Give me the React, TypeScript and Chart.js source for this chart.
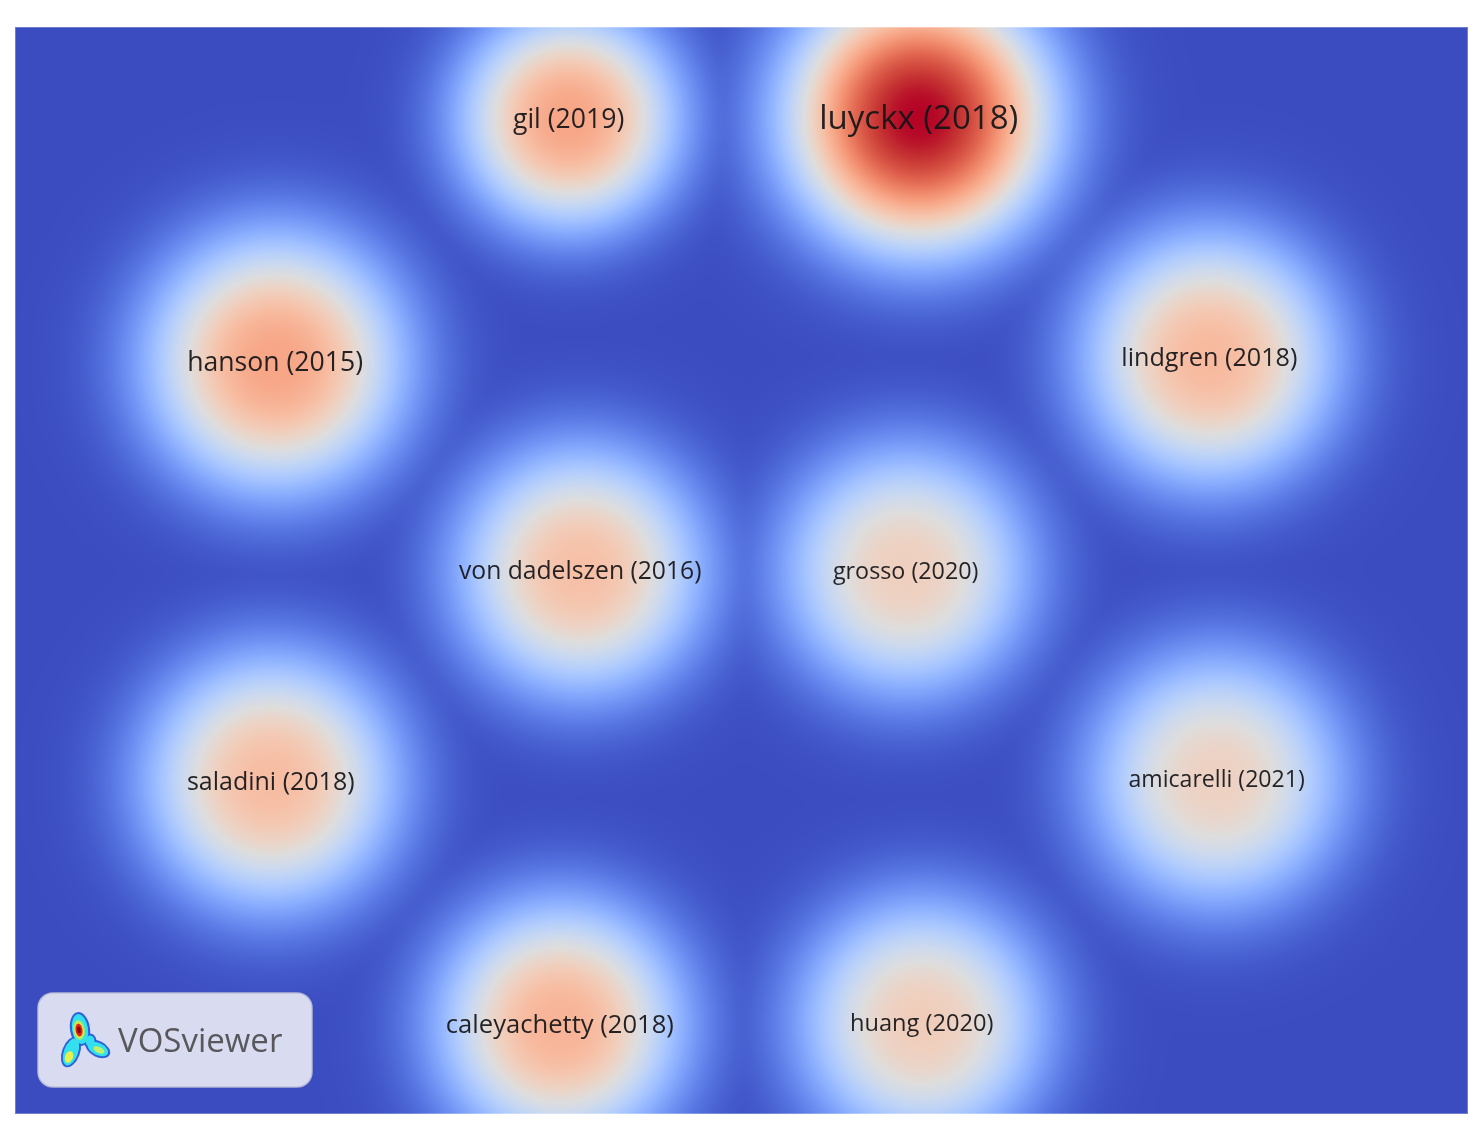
import React, { useEffect, useRef } from "react";
import { Chart, registerables } from "chart.js";
Chart.register(...registerables);

// Items of the VOSviewer density map (map coordinates, y upward)
const itemLabels = [
  "gil (2019)",
  "luyckx (2018)",
  "hanson (2015)",
  "lindgren (2018)",
  "von dadelszen (2016)",
  "grosso (2020)",
  "saladini (2018)",
  "amicarelli (2021)",
  "caleyachetty (2018)",
  "huang (2020)",
];
const itemX = [38.1, 62.2, 17.9, 82.2, 38.9, 61.3, 17.6, 82.7, 37.5, 62.4];
const itemY = [68.7, 68.8, 51.9, 52.2, 37.5, 37.5, 23.0, 23.1, 6.2, 6.3];
// relative weight (citation strength), 1 = strongest item
const itemWeight = [0.72, 1.0, 0.72, 0.66, 0.64, 0.58, 0.65, 0.57, 0.68, 0.59];
// local kernel spread of each item's density (map units)
const itemSpread = [7.5, 9.1, 8.8, 8.6, 8.4, 8.4, 8.6, 8.6, 8.4, 8.4];

const X_MIN = 0, X_MAX = 100, Y_MIN = 0, Y_MAX = 75;
const KERNEL_POWER = 2.6;
const COMBINE_Q = 3;

// matplotlib "coolwarm" (Moreland) colour table
const COOLWARM = [
  [59, 76, 192], [68, 90, 204], [77, 104, 215], [87, 117, 225], [98, 130, 234],
  [108, 142, 241], [119, 154, 247], [130, 165, 251], [141, 176, 254], [152, 185, 255],
  [163, 194, 255], [174, 201, 253], [184, 208, 249], [194, 213, 244], [204, 217, 238],
  [213, 219, 230], [221, 221, 221], [229, 216, 209], [236, 211, 197], [241, 204, 185],
  [245, 196, 173], [247, 187, 160], [247, 177, 148], [247, 166, 135], [244, 154, 123],
  [241, 141, 111], [236, 127, 99], [229, 112, 88], [222, 96, 77], [213, 80, 66],
  [203, 62, 56], [192, 40, 47], [180, 4, 38],
];

function cmap(t: number): [number, number, number] {
  const v = Math.max(0, Math.min(1, t)) * (COOLWARM.length - 1);
  const i = Math.min(COOLWARM.length - 2, Math.floor(v));
  const f = v - i;
  const a = COOLWARM[i], b = COOLWARM[i + 1];
  return [a[0] + (b[0] - a[0]) * f, a[1] + (b[1] - a[1]) * f, a[2] + (b[2] - a[2]) * f];
}

const densityPlugin = {
  id: "density",
  beforeDatasetsDraw(chart: any) {
    const { ctx, chartArea, scales } = chart;
    const xs = scales.x, ys = scales.y;
    const left = Math.round(chartArea.left), top = Math.round(chartArea.top);
    const w = Math.round(chartArea.right) - left;
    const h = Math.round(chartArea.bottom) - top;
    const unit = Math.abs(xs.getPixelForValue(1) - xs.getPixelForValue(0));
    const pts = itemX.map((x, i) => {
      const s = itemSpread[i] * unit;
      return {
        px: xs.getPixelForValue(x) - left,
        py: ys.getPixelForValue(itemY[i]) - top,
        w: itemWeight[i],
        inv: 1 / (s * s),
        cut: (3.2 * s) ** 2,
      };
    });
    const dens = new Float32Array(w * h);
    const half = KERNEL_POWER / 2;
    let max = 0;
    for (let y = 0; y < h; y++) {
      for (let x = 0; x < w; x++) {
        let d = 0;
        for (let k = 0; k < pts.length; k++) {
          const p = pts[k];
          const dx = x - p.px, dy = y - p.py;
          const r2 = dx * dx + dy * dy;
          if (r2 > p.cut) continue;
          const v = p.w * Math.exp(-Math.pow(r2 * p.inv, half));
          d += v * v * v;
        }
        d = Math.pow(d, 1 / COMBINE_Q);
        dens[y * w + x] = d;
        if (d > max) max = d;
      }
    }
    const img = ctx.createImageData(w, h);
    const data = img.data;
    for (let i = 0; i < w * h; i++) {
      const c = cmap(dens[i] / max);
      data[i * 4] = c[0];
      data[i * 4 + 1] = c[1];
      data[i * 4 + 2] = c[2];
      data[i * 4 + 3] = 255;
    }
    ctx.putImageData(img, left, top);
    ctx.save();
    ctx.strokeStyle = "rgba(255,255,255,0.28)";
    ctx.lineWidth = 1;
    ctx.strokeRect(left + 0.5, top + 0.5, w - 1, h - 1);
    ctx.restore();
  },
  afterDatasetsDraw(chart: any) {
    const { ctx, scales } = chart;
    ctx.save();
    ctx.textAlign = "center";
    ctx.textBaseline = "middle";
    ctx.fillStyle = "rgba(20,20,24,0.93)";
    itemLabels.forEach((lab, i) => {
      const size = 10 + 23 * itemWeight[i];
      ctx.font = `${size.toFixed(1)}px "Open Sans", "Noto Sans", sans-serif`;
      ctx.fillText(
        lab,
        scales.x.getPixelForValue(itemX[i]),
        scales.y.getPixelForValue(itemY[i]) + size * 0.07
      );
    });
    ctx.restore();
  },
};

function ell(ctx: CanvasRenderingContext2D, cx: number, cy: number, rx: number, ry: number, rot: number, col: string) {
  ctx.fillStyle = col;
  ctx.beginPath();
  ctx.ellipse(cx, cy, rx, ry, rot, 0, Math.PI * 2);
  ctx.fill();
}

const logoPlugin = {
  id: "vosLogo",
  afterDraw(chart: any) {
    const ctx: CanvasRenderingContext2D = chart.ctx;
    const ox = -8, oy = -8; // page -> canvas offset
    ctx.save();
    // badge
    const bx = 38 + ox, by = 993 + oy, bw = 274, bh = 94, r = 15;
    ctx.beginPath();
    ctx.moveTo(bx + r, by);
    ctx.arcTo(bx + bw, by, bx + bw, by + bh, r);
    ctx.arcTo(bx + bw, by + bh, bx, by + bh, r);
    ctx.arcTo(bx, by + bh, bx, by, r);
    ctx.arcTo(bx, by, bx + bw, by, r);
    ctx.closePath();
    ctx.fillStyle = "rgb(217,219,241)";
    ctx.fill();
    ctx.strokeStyle = "rgba(190,192,215,0.9)";
    ctx.lineWidth = 1.5;
    ctx.stroke();
    // icon
    const shapes = [
      [80, 1029, 8, 15, -0.15],
      [71, 1052, 7, 14, 0.35],
      [98, 1049, 11, 6, 0.45],
      [90, 1041, 4.5, 5.5, 0],
    ];
    shapes.forEach((s) => ell(ctx, s[0] + ox, s[1] + oy, s[2] + 2, s[3] + 2, s[4], "#2f62d8"));
    shapes.forEach((s) => ell(ctx, s[0] + ox, s[1] + oy, s[2], s[3], s[4], "#34e0ee"));
    ell(ctx, 79 + ox, 1030 + oy, 6, 10, -0.15, "#8ef07c");
    ell(ctx, 69 + ox, 1057 + oy, 4, 6, 0.35, "#e8f04a");
    ell(ctx, 99 + ox, 1050 + oy, 6, 3, 0.45, "#bff06a");
    ell(ctx, 79 + ox, 1030 + oy, 4.5, 8, -0.15, "#f2e840");
    ell(ctx, 79 + ox, 1030 + oy, 3.5, 6.5, -0.15, "#e6261c");
    ell(ctx, 79 + ox, 1030 + oy, 1.8, 3.6, -0.15, "#8a0410");
    // text
    ctx.fillStyle = "rgb(88,88,92)";
    ctx.font = '33px "Open Sans", "Noto Sans", sans-serif';
    ctx.textAlign = "left";
    ctx.textBaseline = "alphabetic";
    ctx.fillText("VOSviewer", 118 + ox, 1052 + oy);
    ctx.restore();
  },
};

export default function App() {
  const ref = useRef<HTMLCanvasElement>(null);
  useEffect(() => {
    if (!ref.current) return;
    const chart = new Chart(ref.current, {
      type: "scatter",
      data: {
        datasets: [
          {
            label: "items",
            data: itemX.map((x, i) => ({ x, y: itemY[i] })),
            pointRadius: 0,
            pointHoverRadius: 0,
          },
        ],
      },
      options: {
        responsive: false,
        animation: false,
        events: [],
        layout: { padding: { left: 7, top: 19, right: 6, bottom: 9 } },
        plugins: { legend: { display: false }, tooltip: { enabled: false } },
        scales: {
          x: { type: "linear", min: X_MIN, max: X_MAX, display: false },
          y: { type: "linear", min: Y_MIN, max: Y_MAX, display: false },
        },
      },
      plugins: [densityPlugin, logoPlugin],
    });
    return () => chart.destroy();
  }, []);
  return (
    <div style={{ width: 1466, height: 1115 }}>
      <canvas ref={ref} width={1466} height={1115} style={{ display: "block" }} />
    </div>
  );
}
